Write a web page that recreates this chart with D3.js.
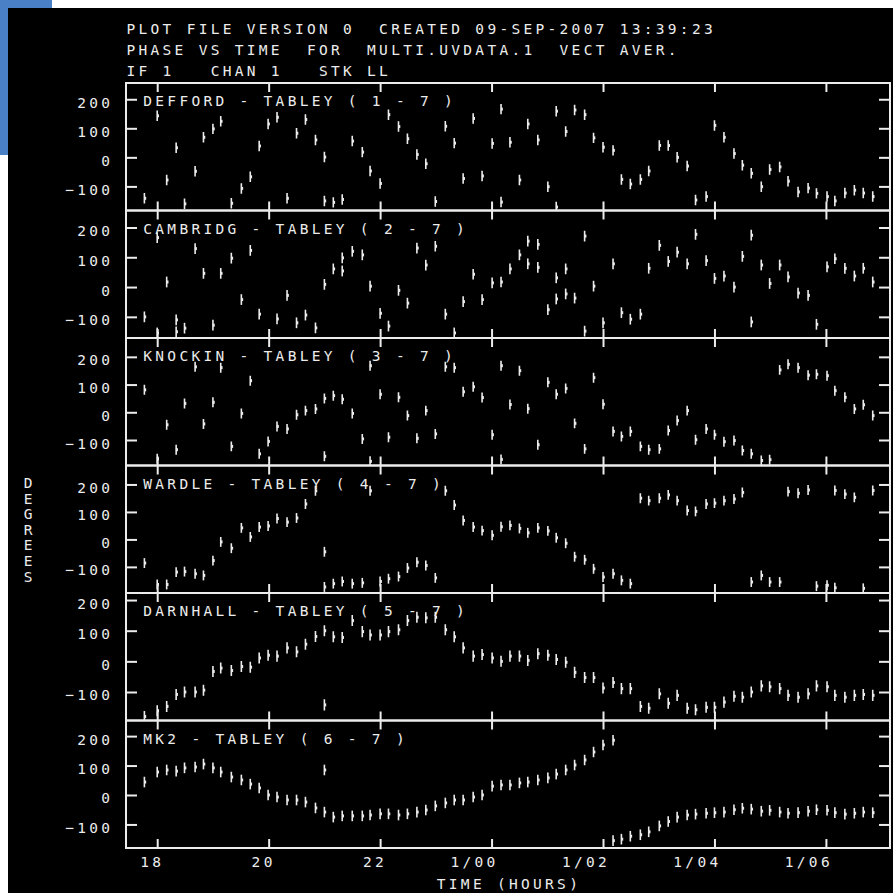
<!DOCTYPE html>
<html>
<head>
<meta charset="utf-8">
<script src="https://cdn.jsdelivr.net/npm/d3@7"></script>
<style>
  html, body { margin: 0; padding: 0; background: #fff; }
  svg { display: block; }
  text { font-family: "DejaVu Sans Mono", monospace; fill: #ececec; font-size: 14.5px; letter-spacing: 3.3px; }
</style>
</head>
<body>
<svg id="chart" width="893" height="893"></svg>
<script>
// ---- header text ----
const headerLines = [
  "PLOT FILE VERSION 0  CREATED 09-SEP-2007 13:39:23",
  "PHASE VS TIME  FOR  MULTI.UVDATA.1  VECT AVER.",
  "IF 1   CHAN 1   STK LL"
];

// ---- baselines (one panel each) ----
const baselineLabels = [
  "DEFFORD - TABLEY ( 1 - 7 )",
  "CAMBRIDG - TABLEY ( 2 - 7 )",
  "KNOCKIN - TABLEY ( 3 - 7 )",
  "WARDLE - TABLEY ( 4 - 7 )",
  "DARNHALL - TABLEY ( 5 - 7 )",
  "MK2 - TABLEY ( 6 - 7 )"
];

// phase axis extent of each panel (degrees)
const phaseRanges = [
  [-183, 256], [-171, 257], [-192, 268], [-195, 269], [-193, 223], [-180, 253]
];

// time axis (hours; values past 24 are on day 1)
const timeRange = [17.44, 31.15];
const hourTicks = [18, 20, 22, 24, 26, 28, 30];
const phaseTicks = [-100, 0, 100, 200];

// scan centre times (hours)
const scanTimes = [
  17.77, 18.00, 18.17, 18.34, 18.49, 18.68, 18.83, 19.00, 19.14, 19.33,
  19.51, 19.67, 19.83, 19.99, 20.15, 20.33, 20.50, 20.66, 20.84, 21.00,
  21.16, 21.32, 21.50, 21.68, 21.82, 22.00, 22.15, 22.33, 22.49, 22.66,
  22.82, 22.99, 23.17, 23.33, 23.49, 23.67, 23.83, 24.01, 24.17, 24.33,
  24.50, 24.65, 24.83, 25.01, 25.16, 25.33, 25.49, 25.67, 25.83, 26.00,
  26.18, 26.33, 26.49, 26.67, 26.82, 27.01, 27.17, 27.33, 27.51, 27.66,
  27.85, 28.00, 28.17, 28.35, 28.50, 28.66, 28.84, 28.99, 29.17, 29.32,
  29.50, 29.68, 29.83, 30.02, 30.16, 30.34, 30.51, 30.67, 30.84
];

// vector-averaged phases per scan (degrees), null = no data
const phaseDefford = [
  -141, 143, -78, 33, -160, -48, 69, 98, 124, -158,
  -107, -67, 39, 115, 138, -141, 83, 130, 60, 1,
  -155, -145, 56, 18, -47, -90, 147, 106, 64, 10,
  -22, -152, 107, 49, -73, 134, -64, 48, -154, 52,
  -78, 115, 60, -101, 159, 89, 163, 147, 67, 35,
  24, -76, -92, -76, -47, 41, 41, 0, -30, -147,
  -135, 110, 69, 13, -27, -55, -101, -42, -33, -82,
  -119, -106, -124, -135, -150, -123, -113, -123, -135
];
const phaseCambridg = [
  -100, 166, 17, -110, -138, 129, 46, -128, 46, 97,
  -42, 123, -91, null, -107, -28, -120, -94, -137, 9,
  61, 98, 120, 108, 3, -88, -131, -11, -54, 131,
  74, 137, -91, -154, -49, 43, -42, 14, 17, 61,
  108, 154, 143, -76, 31, 61, -37, 171, 3, -120,
  78, -86, -108, -91, 63, 140, 86, 117, 78, 177,
  89, 29, 37, 0, 103, 174, 74, 12, 74, 34,
  -20, -28, -125, 68, 95, 63, 37, 63, 17
];
const phaseKnockin = [
  81, -168, -45, -135, 32, 164, -42, 36, 161, -123,
  -4, 114, -150, -105, -51, -60, -9, 6, 12, 50,
  60, 47, -4, -96, -177, 65, -90, 54, -12, -94,
  6, -78, 164, 161, 74, 92, 53, -81, 168, 28,
  150, 13, -117, 108, 65, 86, -40, -132, 125, 29,
  -69, -87, -69, -123, -135, -132, -66, -30, 6, -99,
  -60, -81, -106, -102, -138, -150, -174, -171, 153, 173,
  161, 134, 137, 132, 78, 54, 12, 27, -12
];
const phaseWardle = [
  -86, -164, -164, -119, -117, -125, -131, -77, -9, -32,
  42, 9, 45, 49, 76, 63, 78, 129, 177, -45,
  -161, -153, -161, -158, 177, -153, -143, -135, -104, -83,
  -95, -140, 177, 125, 69, 45, 32, 15, 46, 51,
  40, 24, 42, 31, 6, -14, -63, -74, -107, -137,
  -125, -149, -161, 150, 141, 150, 162, 141, 105, 102,
  129, 132, 141, 147, 171, -155, -131, -155, -155, 174,
  168, 180, -170, -167, -176, 165, 153, -178, 178
];
const phaseDarnhall = [
  -180, -161, -147, -108, -100, -100, -94, -33, -22, -30,
  -17, -19, 11, 20, 17, 44, 31, 56, 81, 100,
  80, 78, 133, 97, 86, 86, 97, 103, 133, 144,
  142, 144, 103, 80, 44, 17, 22, 11, 0, 17,
  17, 3, 25, 20, 6, -3, -36, -53, -53, -87,
  -69, -89, -89, -147, -153, -106, -137, -111, -153, -158,
  -150, -150, -133, -114, -117, -100, -80, -83, -89, -111,
  -117, -106, -80, -83, -111, -117, -111, -108, -111
];
const phaseMk2 = [
  44, 78, 85, 81, 92, 95, 105, 92, 78, 61,
  51, 37, 24, 0, -7, -17, -17, -24, -44, -58,
  -75, -71, -71, -71, -68, -64, -64, -68, -64, -58,
  -51, -37, -27, -17, -17, -7, 0, 30, 34, 34,
  41, 44, 51, 58, 71, 85, 102, 119, 146, 170,
  -155, -150, -140, -135, -125, -105, -90, -75, -68, -65,
  -62, -60, -58, -50, -45, -48, -55, -52, -58, -62,
  -60, -55, -50, -52, -60, -65, -62, -58, -60
];

// second records falling in the same scan: [scan index, phase]
const extraDefford = [[19, -150], [38, 166], [44, -171]];
const extraCambridg = [[1, -154], [3, -150], [21, 54], [41, 78], [42, 66], [44, -40], [45, -23], [47, -148], [65, -117]];
const extraKnockin = [[19, -159], [24, 168], [38, -170]];
const extraWardle = [[19, -173], [74, 178]];
const extraDarnhall = [[19, -142]];
const extraMk2 = [[19, 85], [50, 186]];

const panelPhases = [phaseDefford, phaseCambridg, phaseKnockin, phaseWardle, phaseDarnhall, phaseMk2];
const panelExtras = [extraDefford, extraCambridg, extraKnockin, extraWardle, extraDarnhall, extraMk2];

// ---- layout ----
const fg = "#ececec";
const plotLeft = 126, plotRight = 890, plotTop = 83, panelH = 127.5;
const phaseErr = 18;   // half-length of the phase error bar, degrees

const svg = d3.select("#chart");
svg.append("rect").attr("x", 8).attr("y", 8).attr("width", 885).attr("height", 885).attr("fill", "#000");
// strip of the surrounding window
svg.append("rect").attr("x", 0).attr("y", 0).attr("width", 52).attr("height", 8).attr("fill", "#4a80c6");
svg.append("rect").attr("x", 0).attr("y", 0).attr("width", 8).attr("height", 155).attr("fill", "#4a80c6");

// header
svg.selectAll("text.header").data(headerLines).join("text")
  .attr("class", "header")
  .attr("x", 126.5)
  .attr("y", (d, i) => 33.5 + i * 21.3)
  .attr("xml:space", "preserve")
  .style("white-space", "pre")
  .text(d => d);

const x = d3.scaleLinear().domain(timeRange).range([plotLeft, plotRight]);
const fmtHour = h => h < 24 ? String(h) : "1/" + String(h - 24).padStart(2, "0");

const styleAxis = g => {
  g.select(".domain").remove();
  g.selectAll(".tick line").attr("stroke", fg).attr("stroke-width", 2);
};

panelPhases.forEach((phases, i) => {
  const top = plotTop + i * panelH;
  const bottom = top + panelH;
  const y = d3.scaleLinear().domain(phaseRanges[i]).range([bottom, top]);
  const g = svg.append("g");

  const clipId = "clip" + i;
  g.append("clipPath").attr("id", clipId).append("rect")
    .attr("x", plotLeft).attr("y", top).attr("width", plotRight - plotLeft).attr("height", panelH);

  // time ticks, top and bottom, pointing inward
  g.append("g").attr("transform", `translate(0,${top})`)
    .call(d3.axisBottom(x).tickValues(hourTicks).tickSize(9).tickFormat(""))
    .call(styleAxis);
  g.append("g").attr("transform", `translate(0,${bottom})`)
    .call(d3.axisTop(x).tickValues(hourTicks).tickSize(9).tickFormat(""))
    .call(styleAxis);

  // phase ticks left (labelled) and right
  const ticks = phaseTicks.filter(v => v >= phaseRanges[i][0] && v <= phaseRanges[i][1]);
  g.append("g").attr("transform", `translate(${plotLeft},0)`)
    .call(d3.axisRight(y).tickValues(ticks).tickSize(11).tickFormat(d3.format("d")))
    .call(styleAxis)
    .call(a => a.selectAll(".tick text")
      .attr("x", -12.7).attr("dy", null).attr("y", 8)
      .attr("text-anchor", "end").attr("fill", fg));
  g.append("g").attr("transform", `translate(${plotRight},0)`)
    .call(d3.axisLeft(y).tickValues(ticks).tickSize(11).tickFormat(""))
    .call(styleAxis);

  // frame
  g.append("rect")
    .attr("x", plotLeft).attr("y", top).attr("width", plotRight - plotLeft).attr("height", panelH)
    .attr("fill", "none").attr("stroke", fg).attr("stroke-width", 2);

  // baseline name
  g.append("text").attr("x", 143.3).attr("y", top + 23).text(baselineLabels[i]);

  // data records: phase with error bar
  const recs = phases.map((p, k) => ({ t: scanTimes[k], p }))
    .filter(d => d.p !== null)
    .concat(panelExtras[i].map(([k, p]) => ({ t: scanTimes[k], p })));
  const marks = g.append("g").attr("clip-path", `url(#${clipId})`);
  marks.selectAll("line").data(recs).join("line")
    .attr("x1", d => x(d.t)).attr("x2", d => x(d.t))
    .attr("y1", d => y(d.p - phaseErr)).attr("y2", d => y(d.p + phaseErr))
    .attr("stroke", fg).attr("stroke-width", 1.6);
  marks.selectAll("rect").data(recs).join("rect")
    .attr("x", d => x(d.t) - 0.2).attr("y", d => y(d.p) - 1.5)
    .attr("width", 2).attr("height", 3)
    .attr("fill", fg);

  // time labels under the last panel
  if (i === panelPhases.length - 1) {
    svg.append("g").attr("transform", `translate(0,${bottom})`)
      .call(d3.axisBottom(x).tickValues(hourTicks).tickSize(0).tickFormat(fmtHour))
      .call(a => a.select(".domain").remove())
      .call(a => a.selectAll(".tick text")
        .attr("y", 19).attr("dy", null).attr("x", 6.5)
        .attr("text-anchor", "end").attr("fill", fg));
  }
});

// axis titles
svg.append("text").attr("x", 509).attr("y", 889).attr("text-anchor", "middle").text("TIME (HOURS)");
svg.selectAll("text.ylab").data("DEGREES".split("")).join("text")
  .attr("class", "ylab")
  .attr("x", 28).attr("y", (d, i) => 488 + i * 15.6)
  .attr("text-anchor", "middle")
  .style("letter-spacing", "0px")
  .text(d => d);
</script>
</body>
</html>
